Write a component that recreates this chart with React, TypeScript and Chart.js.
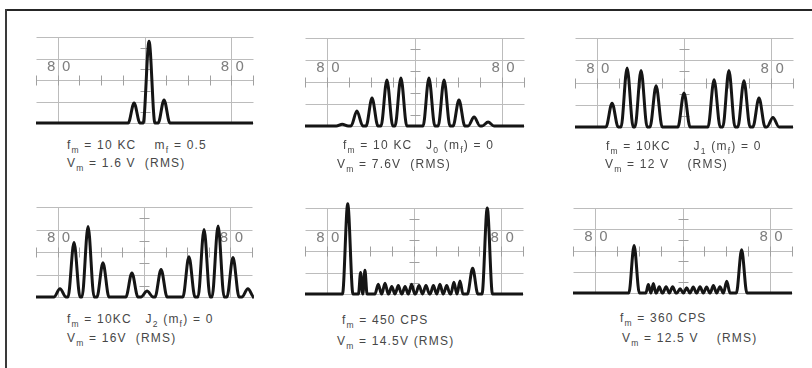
import React, { useEffect, useRef } from "react";
import { Chart, registerables } from "chart.js";
Chart.register(...registerables);

// ---- graticule (screen grid of the analyzer) ----
const xGridLines = [1, 5, 9];
const yGridLines = [0, 1, 2, 3, 4];
const xMinorTicks = [0, 1, 2, 3, 4, 5, 6, 7, 8, 9, 10];
const yMinorTicks = [0.5, 1.5, 2.5, 3.5];
const scaleLabelAt = [1, 9];
const scaleLabelLevel = 2.6;

// ---- spectral lines (position in divisions, amplitude in divisions) ----
const p1Pos = [4.52, 5.21, 5.9];
const p1Amp = [0.93, 3.8, 1.07];

const p2Pos = [1.7, 2.37, 3.06, 3.74, 4.38, 5.66, 6.35, 7.03, 7.72, 8.36];
const p2Amp = [0.08, 0.68, 1.27, 2.09, 2.18, 2.18, 2.09, 1.18, 0.41, 0.18];

const p3Pos = [1.7, 2.39, 3.03, 3.72, 5.0, 6.38, 7.06, 7.75, 8.44, 9.08];
const p3Amp = [1.07, 2.65, 2.54, 1.85, 1.53, 2.12, 2.54, 2.08, 1.3, 0.43];

const p4Pos = [1.11, 1.76, 2.41, 3.1, 4.44, 5.14, 5.79, 7.08, 7.78, 8.43, 9.12, 9.81];
const p4Amp = [0.37, 2.42, 3.13, 1.52, 1.07, 0.27, 1.22, 1.79, 3.0, 3.16, 1.76, 0.37];

const p5Pos = [1.96, 2.55, 2.75, 3.36, 3.67, 3.98, 4.28, 4.59, 4.89, 5.23, 5.55, 5.89, 6.19, 6.5, 6.83, 7.11, 7.69, 8.36];
const p5Amp = [4.2, 1.0, 1.1, 0.45, 0.5, 0.35, 0.4, 0.35, 0.45, 0.4, 0.4, 0.4, 0.45, 0.4, 0.55, 0.6, 1.2, 4.0];

const p6Pos = [2.79, 3.44, 3.67, 3.94, 4.25, 4.55, 4.89, 5.19, 5.49, 5.8, 6.1, 6.41, 6.71, 7.02, 7.7];
const p6Amp = [2.23, 0.4, 0.45, 0.3, 0.3, 0.3, 0.2, 0.25, 0.28, 0.3, 0.28, 0.35, 0.3, 0.55, 2.03];

const peakHalfWidths = [0.27, 0.27, 0.28, 0.28, 0.24, 0.24];

const captions1 = [
  "f_{m} = 10 KC    m_{f} = 0.5",
  "f_{m} = 10 KC   J_{0} (m_{f}) = 0",
  "f_{m} = 10KC     J_{1} (m_{f}) = 0",
  "f_{m} = 10KC   J_{2} (m_{f}) = 0",
  "f_{m} = 450 CPS",
  "f_{m} = 360 CPS",
];
const captions2 = [
  "V_{m} = 1.6 V  (RMS)",
  "V_{m} = 7.6V  (RMS)",
  "V_{m} = 12 V    (RMS)",
  "V_{m} = 16V  (RMS)",
  "V_{m} = 14.5V (RMS)",
  "V_{m} = 12.5 V    (RMS)",
];

// ---- layout (pixels) ----
const boxes = [
  { left: 36, top: 37, w: 217, h: 86 },
  { left: 305, top: 38, w: 219, h: 88 },
  { left: 575, top: 38, w: 218, h: 89 },
  { left: 36, top: 207, w: 216, h: 90 },
  { left: 305, top: 208, w: 218, h: 86 },
  { left: 573, top: 208, w: 219, h: 85 },
];
const captionPos = [
  { x1: 67, y1: 145, x2: 67, y2: 163 },
  { x1: 343, y1: 145, x2: 337, y2: 164 },
  { x1: 606, y1: 146, x2: 605, y2: 164 },
  { x1: 67, y1: 319, x2: 67, y2: 338 },
  { x1: 342, y1: 320, x2: 337, y2: 341 },
  { x1: 620, y1: 318, x2: 622, y2: 338 },
];
const PAD = 14;

const allPos = [p1Pos, p2Pos, p3Pos, p4Pos, p5Pos, p6Pos];
const allAmp = [p1Amp, p2Amp, p3Amp, p4Amp, p5Amp, p6Amp];

function buildTrace(pos: number[], amp: number[], hw: number) {
  const pts: { x: number; y: number }[] = [{ x: 0, y: 0 }];
  pos.forEach((p, i) => {
    const prev = i > 0 ? pos[i - 1] : -100;
    const next = i < pos.length - 1 ? pos[i + 1] : 100;
    const w = Math.min(hw, ((p - prev) / 2) * 0.97, ((next - p) / 2) * 0.97);
    pts.push({ x: p - w, y: 0 }, { x: p, y: amp[i] }, { x: p + w, y: 0 });
  });
  pts.push({ x: 10, y: 0 });
  return pts;
}

const graticule = {
  id: "graticule",
  beforeDatasetsDraw(chart: any) {
    const { ctx } = chart;
    const xs = chart.scales.x;
    const ys = chart.scales.y;
    const px = (v: number) => Math.round(xs.getPixelForValue(v)) + 0.5;
    const py = (v: number) => Math.round(ys.getPixelForValue(v)) + 0.5;
    ctx.save();
    ctx.strokeStyle = "#bcbcbc";
    ctx.lineWidth = 1;
    ctx.beginPath();
    for (const v of yGridLines) {
      ctx.moveTo(px(0), py(v));
      ctx.lineTo(px(10), py(v));
    }
    for (const v of xGridLines) {
      ctx.moveTo(px(v), py(0));
      ctx.lineTo(px(v), py(4));
    }
    ctx.stroke();
    ctx.strokeStyle = "#a0a0a0";
    ctx.beginPath();
    for (const v of xMinorTicks) {
      ctx.moveTo(px(v), py(2) - 5);
      ctx.lineTo(px(v), py(2) + 5);
    }
    for (const v of yMinorTicks) {
      ctx.moveTo(px(5) - 5, py(v));
      ctx.lineTo(px(5) + 5, py(v));
    }
    ctx.stroke();
    ctx.fillStyle = "#808080";
    ctx.font = "14px 'DejaVu Sans'";
    ctx.textBaseline = "middle";
    for (const v of scaleLabelAt) {
      const x = xs.getPixelForValue(v);
      const y = ys.getPixelForValue(scaleLabelLevel);
      ctx.textAlign = "right";
      ctx.fillText("8", x - 2, y);
      ctx.textAlign = "left";
      ctx.fillText("0", x + 4, y);
    }
    ctx.restore();
  },
};

function Panel({ idx }: { idx: number }) {
  const ref = useRef<HTMLCanvasElement>(null);
  const b = boxes[idx];
  useEffect(() => {
    if (!ref.current) return;
    const chart = new Chart(ref.current, {
      type: "line",
      data: {
        datasets: [
          {
            data: buildTrace(allPos[idx], allAmp[idx], peakHalfWidths[idx]),
            borderColor: "#151515",
            borderWidth: 3,
            pointRadius: 0,
            cubicInterpolationMode: "monotone",
            clip: false as any,
            fill: false,
          },
        ],
      },
      options: {
        animation: false,
        responsive: false,
        devicePixelRatio: 1,
        events: [],
        layout: { padding: PAD },
        scales: {
          x: { type: "linear", min: 0, max: 10, display: false },
          y: { type: "linear", min: 0, max: 4, display: false },
        },
        plugins: { legend: { display: false }, tooltip: { enabled: false } },
      },
      plugins: [graticule],
    });
    return () => chart.destroy();
  }, [idx]);
  return (
    <canvas
      ref={ref}
      width={b.w + 2 * PAD}
      height={b.h + 2 * PAD}
      style={{
        position: "absolute",
        left: b.left - PAD,
        top: b.top - PAD,
        width: b.w + 2 * PAD,
        height: b.h + 2 * PAD,
      }}
    />
  );
}

function Rich({ text }: { text: string }) {
  const parts: React.ReactNode[] = [];
  const re = /_\{([^}]*)\}/g;
  let last = 0;
  let m: RegExpExecArray | null;
  let k = 0;
  while ((m = re.exec(text))) {
    parts.push(<span key={k++}>{text.slice(last, m.index)}</span>);
    parts.push(
      <span key={k++} style={{ fontSize: 8.5, position: "relative", top: 4 }}>
        {m[1]}
      </span>
    );
    last = m.index + m[0].length;
  }
  parts.push(<span key={k++}>{text.slice(last)}</span>);
  return <>{parts}</>;
}

const captionStyle: React.CSSProperties = {
  position: "absolute",
  fontFamily: "'Liberation Sans', Arial, sans-serif",
  fontSize: 12,
  lineHeight: "12px",
  letterSpacing: 1.2,
  color: "#474747",
  whiteSpace: "pre",
};

export default function App() {
  return (
    <div
      style={{
        position: "absolute",
        left: 0,
        top: 0,
        width: 812,
        height: 368,
        background: "#ffffff",
        overflow: "hidden",
      }}
    >
      <div style={{ position: "absolute", left: 5, top: 9, width: 807, height: 2, background: "#262626" }} />
      <div style={{ position: "absolute", left: 5, top: 9, width: 2, height: 359, background: "#3a3a3a" }} />
      {boxes.map((_, i) => (
        <Panel key={i} idx={i} />
      ))}
      {captionPos.map((c, i) => (
        <React.Fragment key={i}>
          <div style={{ ...captionStyle, left: c.x1, top: c.y1 - 6 }}>
            <Rich text={captions1[i]} />
          </div>
          <div style={{ ...captionStyle, left: c.x2, top: c.y2 - 6 }}>
            <Rich text={captions2[i]} />
          </div>
        </React.Fragment>
      ))}
    </div>
  );
}
